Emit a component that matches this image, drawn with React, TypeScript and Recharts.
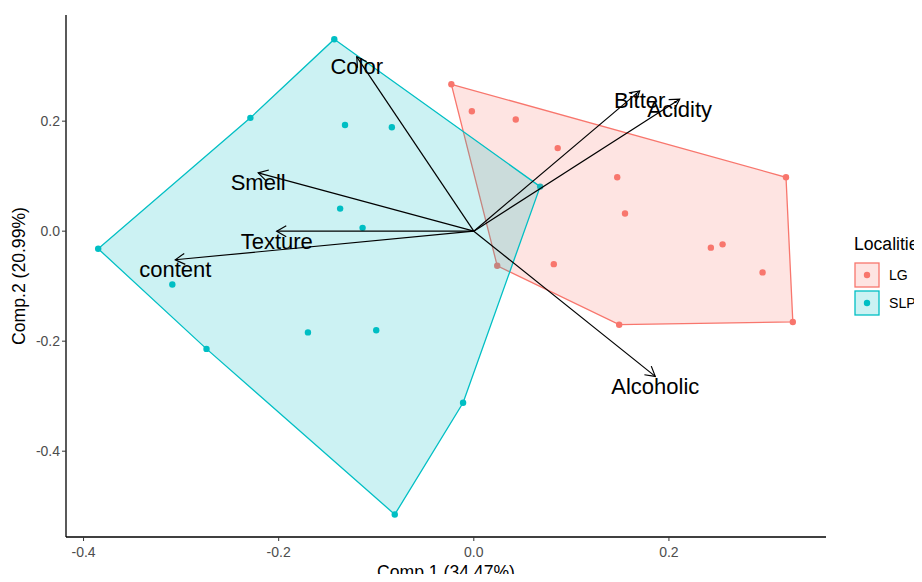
import { ScatterChart, Scatter, XAxis, YAxis } from 'recharts';

const LG_COLOR = '#F8766D';
const SLP_COLOR = '#00BFC4';

// individual scores
const lgPoints = [
  { x: -0.023, y: 0.267 }, { x: -0.002, y: 0.218 }, { x: 0.043, y: 0.203 },
  { x: 0.086, y: 0.151 }, { x: 0.147, y: 0.098 }, { x: 0.155, y: 0.032 },
  { x: 0.320, y: 0.098 }, { x: 0.243, y: -0.030 }, { x: 0.255, y: -0.024 },
  { x: 0.296, y: -0.075 }, { x: 0.327, y: -0.165 }, { x: 0.149, y: -0.170 },
  { x: 0.082, y: -0.060 }, { x: 0.024, y: -0.063 },
];

const slpPoints = [
  { x: -0.143, y: 0.349 }, { x: -0.229, y: 0.206 }, { x: -0.132, y: 0.193 },
  { x: -0.084, y: 0.189 }, { x: -0.137, y: 0.041 }, { x: -0.114, y: 0.006 },
  { x: -0.385, y: -0.032 }, { x: -0.309, y: -0.097 }, { x: -0.170, y: -0.184 },
  { x: -0.100, y: -0.180 }, { x: -0.274, y: -0.214 }, { x: -0.011, y: -0.312 },
  { x: -0.081, y: -0.515 }, { x: 0.068, y: 0.081 },
];

// convex hull vertices
const lgHull = [
  { x: -0.023, y: 0.267 }, { x: 0.320, y: 0.098 }, { x: 0.327, y: -0.165 },
  { x: 0.149, y: -0.170 }, { x: 0.024, y: -0.063 },
];

const slpHull = [
  { x: -0.143, y: 0.349 }, { x: 0.068, y: 0.081 }, { x: -0.011, y: -0.312 },
  { x: -0.081, y: -0.515 }, { x: -0.274, y: -0.214 }, { x: -0.385, y: -0.032 },
  { x: -0.229, y: 0.206 },
];

// variable loadings
const loadingNames = ['Color', 'Smell', 'Texture', 'content', 'Bitter', 'Acidity', 'Alcoholic'];
const loadingX = [-0.120, -0.221, -0.202, -0.306, 0.170, 0.211, 0.186];
const loadingY = [0.317, 0.106, 0.000, -0.052, 0.255, 0.240, -0.264];

const xTicks = [-0.4, -0.2, 0, 0.2];
const yTicks = [-0.4, -0.2, 0, 0.2];

const hullLine = (color: string) => (props: any) => {
  const pts = (props.points || []).map((p: any) => `${p.x},${p.y}`).join(' ');
  return (
    <polygon points={pts} fill={color} fillOpacity={0.2} stroke={color} strokeWidth={1.3} />
  );
};

const arrowLine = (name: string) => (props: any) => {
  const pts = props.points || [];
  if (pts.length < 2) return <g />;
  const [o, t] = pts;
  const ang = Math.atan2(t.y - o.y, t.x - o.x);
  const len = 11;
  const a = Math.PI / 6;
  const p1 = { x: t.x - len * Math.cos(ang - a), y: t.y - len * Math.sin(ang - a) };
  const p2 = { x: t.x - len * Math.cos(ang + a), y: t.y - len * Math.sin(ang + a) };
  return (
    <g>
      <line x1={o.x} y1={o.y} x2={t.x} y2={t.y} stroke="#000" strokeWidth={1.2} />
      <polyline
        points={`${p1.x},${p1.y} ${t.x},${t.y} ${p2.x},${p2.y}`}
        fill="none"
        stroke="#000"
        strokeWidth={1.2}
      />
      <text x={t.x} y={t.y + 10} textAnchor="middle" dominantBaseline="central" fontSize={22} fill="#000">
        {name}
      </text>
    </g>
  );
};

const dot = (color: string) => (p: any) => <circle cx={p.cx} cy={p.cy} r={3.2} fill={color} />;
const none = () => <g />;

const XTitle = (props: any) => {
  const vb = props.viewBox || { x: 66, y: 537, width: 760, height: 30 };
  return (
    <text x={vb.x + vb.width / 2} y={vb.y + vb.height + 11} textAnchor="middle" fontSize={17.6} fill="#000">
      Comp.1 (34.47%)
    </text>
  );
};

const YTitle = (props: any) => {
  const vb = props.viewBox || { x: 26, y: 15, width: 40, height: 522 };
  const x = vb.x - 1;
  const y = vb.y + vb.height / 2;
  return (
    <text x={x} y={y} transform={`rotate(-90, ${x}, ${y})`} textAnchor="middle" fontSize={17.6} fill="#000">
      Comp.2 (20.99%)
    </text>
  );
};

function LegendKey({ color, label }: { color: string; label: string }) {
  return (
    <div style={{ display: 'flex', alignItems: 'center', height: 28 }}>
      <svg width={26} height={26}>
        <rect x={1} y={1} width={24} height={24} fill={color} fillOpacity={0.2} stroke={color} strokeWidth={1.3} />
        <circle cx={13} cy={13} r={3.2} fill={color} />
      </svg>
      <span style={{ marginLeft: 9, fontSize: 14.1, color: '#000' }}>{label}</span>
    </div>
  );
}

export default function App() {
  // negative margin cancels the body margin so the chart fills the 922x582 page exactly
  return (
    <div
      style={{
        position: 'relative',
        width: 922,
        height: 582,
        margin: -8,
        overflow: 'hidden',
        fontFamily: '"Liberation Sans", Arial, sans-serif',
      }}
    >
      <ScatterChart width={922} height={582} margin={{ top: 15, right: 96, bottom: 15, left: 26 }}>
        <XAxis
          type="number"
          dataKey="x"
          domain={[-0.418, 0.361]}
          ticks={xTicks}
          tickFormatter={(v: number) => v.toFixed(1)}
          height={30}
          tickSize={4}
          tickMargin={6}
          axisLine={{ stroke: '#000', strokeWidth: 1.3 }}
          tickLine={{ stroke: '#333' }}
          tick={{ fill: '#4D4D4D', fontSize: 14 }}
          allowDataOverflow
          label={<XTitle />}
        />
        <YAxis
          type="number"
          dataKey="y"
          domain={[-0.556, 0.393]}
          ticks={yTicks}
          tickFormatter={(v: number) => v.toFixed(1)}
          width={40}
          tickSize={4}
          tickMargin={2}
          axisLine={{ stroke: '#000', strokeWidth: 1.3 }}
          tickLine={{ stroke: '#333' }}
          tick={{ fill: '#4D4D4D', fontSize: 14 }}
          allowDataOverflow
          label={<YTitle />}
        />
        <Scatter name="LG" data={lgPoints} shape={dot(LG_COLOR)} isAnimationActive={false} />
        <Scatter name="SLP" data={slpPoints} shape={dot(SLP_COLOR)} isAnimationActive={false} />
        <Scatter data={lgHull} shape={none} line={hullLine(LG_COLOR)} lineType="joint" legendType="none" isAnimationActive={false} />
        <Scatter data={slpHull} shape={none} line={hullLine(SLP_COLOR)} lineType="joint" legendType="none" isAnimationActive={false} />
        {loadingNames.map((name, i) => (
          <Scatter
            key={name}
            data={[{ x: 0, y: 0 }, { x: loadingX[i], y: loadingY[i] }]}
            shape={none}
            line={arrowLine(name)}
            lineType="joint"
            legendType="none"
            isAnimationActive={false}
          />
        ))}
      </ScatterChart>
      <div style={{ position: 'absolute', left: 854, top: 234, width: 68, whiteSpace: 'nowrap' }}>
        <div style={{ fontSize: 17.6, color: '#000', marginBottom: 6 }}>Localitie</div>
        <LegendKey color={LG_COLOR} label="LG" />
        <LegendKey color={SLP_COLOR} label="SLP" />
      </div>
    </div>
  );
}
